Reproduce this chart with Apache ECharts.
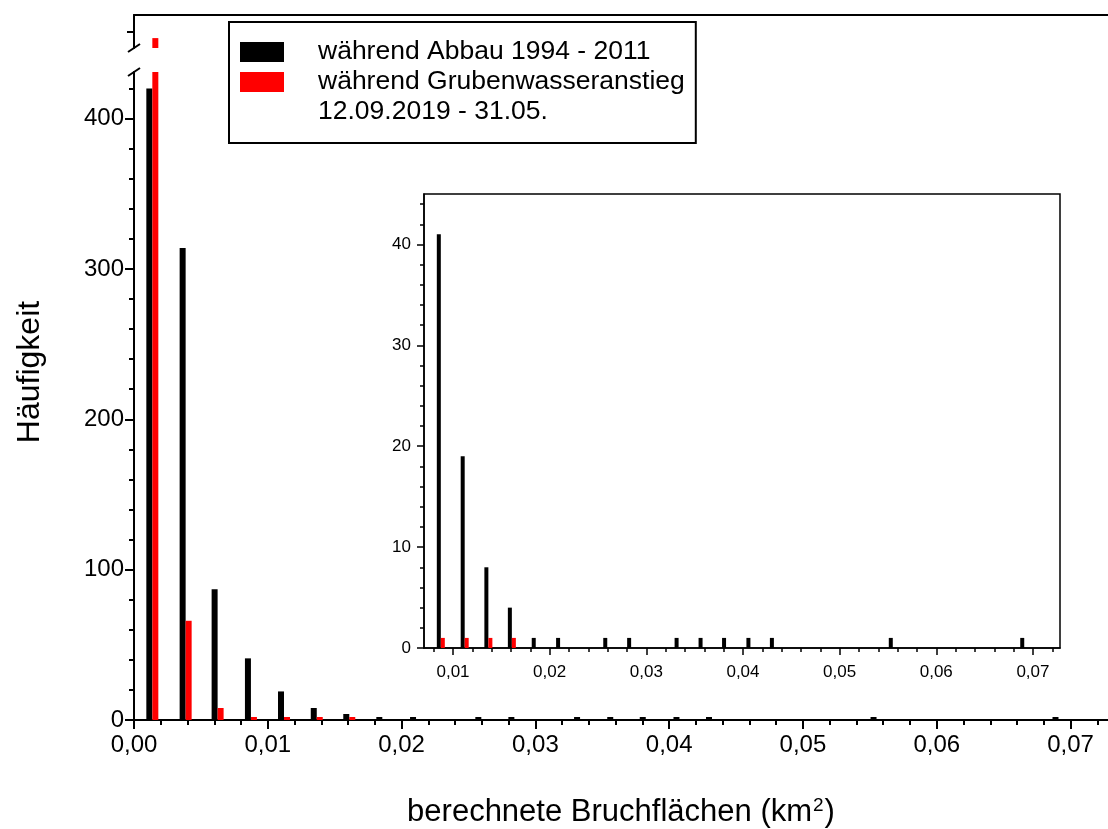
<!DOCTYPE html>
<html>
<head>
<meta charset="utf-8">
<script src="https://cdn.jsdelivr.net/npm/echarts@6/dist/echarts.min.js"></script>
<style>
  html, body { margin: 0; padding: 0; background: #fff; }
  #chart { width: 1108px; height: 829px; }
</style>
</head>
<body>
<div id="chart"></div>
<script>
// Histogram of computed fracture areas (km²): bin centres and event counts per period
const binCenters = [0.00137, 0.00386, 0.00625, 0.00874, 0.01121, 0.01366, 0.01609, 0.01856, 0.02108,
                    0.02596, 0.02843, 0.03334, 0.03582, 0.03825, 0.04077, 0.04320, 0.0555, 0.0691];
const abbau   = [420, 314, 87, 41, 19, 8, 4, 1, 1, 1, 1, 1, 1, 1, 1, 1, 1, 1];
const anstieg = [1160, 66, 8, 1, 1, 1, 1, 0, 0, 0, 0, 0, 0, 0, 0, 0, 0, 0];
const seriesNames = ['während Abbau 1994 - 2011', 'während Grubenwasseranstieg\n12.09.2019 - 31.05.'];

// tick values (labelled)
const mainXTicks  = [0, 0.01, 0.02, 0.03, 0.04, 0.05, 0.06, 0.07];
const mainYTicks  = [0, 100, 200, 300, 400];
const upperYTicks = [1200];
const insetXTicks = [0.01, 0.02, 0.03, 0.04, 0.05, 0.06, 0.07];
const insetYTicks = [0, 10, 20, 30, 40];

const FONT = '"Liberation Sans", Arial, sans-serif';
const BLACK = '#000000';
const RED = '#ff0000';

// axis ranges; the main y axis is broken into a lower and an upper segment
const mainX  = { min: 0, max: 0.0728 };
const lowerY = { min: 0, max: 431 };
const upperY = { min: 1100, max: 1300 };
const insetX = { min: 0.007, max: 0.0728 };
const insetY = { min: 0, max: 45 };

function minorTicks(range, step, majors) {
  const out = [];
  const start = Math.ceil(range.min / step - 1e-9);
  for (let k = start; k * step <= range.max + 1e-12; k++) {
    const v = +(k * step).toFixed(6);
    if (!majors.some(m => Math.abs(m - v) < step * 1e-3)) out.push(v);
  }
  return out;
}
const fmt = v => v.toFixed(2).replace('.', ',');

const pairs = (vals, keep) => binCenters.map((x, i) => keep(x, vals[i]) ? [x, vals[i]] : '-');

const axisLine = w => ({ show: true, onZero: false, lineStyle: { color: BLACK, width: w } });
const noLabel = { show: false };

function majorX(grid, range, ticks, opts) {
  return Object.assign({
    type: 'value', gridIndex: grid, min: range.min, max: range.max, position: 'bottom',
    splitLine: { show: false },
    axisLine: axisLine(opts.lw),
    axisTick: { show: true, customValues: ticks, length: opts.tick, lineStyle: { color: BLACK, width: opts.lw } },
    axisLabel: { customValues: ticks, formatter: fmt, fontFamily: FONT, fontSize: opts.fs, color: BLACK, margin: opts.margin }
  }, opts.extra || {});
}
function minorX(grid, range, ticks, len, lw) {
  return {
    type: 'value', gridIndex: grid, min: range.min, max: range.max, position: 'bottom',
    splitLine: { show: false }, axisLine: { show: false },
    axisTick: { show: true, customValues: ticks, length: len, lineStyle: { color: BLACK, width: lw } },
    axisLabel: noLabel
  };
}
function majorY(grid, range, ticks, opts) {
  return Object.assign({
    type: 'value', gridIndex: grid, min: range.min, max: range.max, position: 'left',
    splitLine: { show: false },
    axisLine: axisLine(opts.lw),
    axisTick: { show: true, customValues: ticks, length: opts.tick, lineStyle: { color: BLACK, width: opts.lw } },
    axisLabel: opts.fs ? { customValues: ticks, fontFamily: FONT, fontSize: opts.fs, color: BLACK, margin: opts.margin } : noLabel
  }, opts.extra || {});
}
function minorY(grid, range, ticks, len, lw) {
  return {
    type: 'value', gridIndex: grid, min: range.min, max: range.max, position: 'left',
    splitLine: { show: false }, axisLine: { show: false },
    axisTick: { show: true, customValues: ticks, length: len, lineStyle: { color: BLACK, width: lw } },
    axisLabel: noLabel
  };
}

const chart = echarts.init(document.getElementById('chart'), null, { renderer: 'canvas' });

const option = {
  animation: false,
  backgroundColor: '#fff',
  textStyle: { fontFamily: FONT },
  grid: [
    { left: 134, right: 0, top: 72, bottom: 109, outerBoundsMode: 'none' },            // lower segment
    { left: 134, right: 0, top: 15, height: 33, outerBoundsMode: 'none' },             // upper segment
    { left: 424, right: 48, top: 194, bottom: 181, outerBoundsMode: 'none',            // inset
      show: true, backgroundColor: '#fff', borderColor: BLACK, borderWidth: 1.5 }
  ],
  legend: {
    data: seriesNames,
    orient: 'vertical',
    left: 229, top: 22,
    padding: [15, 11, 16, 11],
    itemGap: -30,
    itemWidth: 44, itemHeight: 20,
    icon: 'rect',
    selectedMode: false,
    borderColor: BLACK, borderWidth: 2, backgroundColor: '#fff',
    formatter: name => (name.indexOf('\n') >= 0 ? '\n' + name : name),
    textStyle: { fontFamily: FONT, fontSize: 26.5, lineHeight: 30, color: BLACK, padding: [0, 0, 0, 29] }
  },
  xAxis: [
    majorX(0, mainX, mainXTicks, { lw: 2, tick: 9, fs: 24, margin: 13, extra: {
      name: 'berechnete Bruchflächen (km{sup|2})', nameLocation: 'middle', nameGap: 76,
      nameTextStyle: { fontFamily: FONT, fontSize: 31, color: BLACK,
        rich: { sup: { fontFamily: FONT, fontSize: 19, color: BLACK, padding: [0, 1, 13, 1] } } } } }),
    minorX(0, mainX, minorTicks(mainX, 0.002, mainXTicks), 5, 2),
    { type: 'value', gridIndex: 1, min: mainX.min, max: mainX.max, position: 'top',
      splitLine: { show: false }, axisLine: axisLine(2), axisTick: { show: false }, axisLabel: noLabel },
    majorX(2, insetX, insetXTicks, { lw: 1.5, tick: 7, fs: 17, margin: 16 }),
    minorX(2, insetX, minorTicks(insetX, 0.002, insetXTicks), 4, 1.5)
  ],
  yAxis: [
    majorY(0, lowerY, mainYTicks, { lw: 2, tick: 9, fs: 24, margin: 10, extra: {
      name: 'Häufigkeit', nameLocation: 'middle', nameGap: 88,
      nameTextStyle: { fontFamily: FONT, fontSize: 32, color: BLACK, padding: [0, 0, 0, 48] } } }),
    minorY(0, lowerY, minorTicks(lowerY, 20, mainYTicks), 5, 2),
    majorY(1, upperY, upperYTicks, { lw: 2, tick: 7 }),
    majorY(2, insetY, insetYTicks, { lw: 1.5, tick: 7, fs: 17, margin: 13 }),
    minorY(2, insetY, minorTicks(insetY, 2, insetYTicks), 4, 1.5)
  ],
  series: [
    { name: seriesNames[0], type: 'bar', xAxisIndex: 0, yAxisIndex: 0, barWidth: 6, barGap: '0%', barMinHeight: 3,
      itemStyle: { color: BLACK }, data: pairs(abbau, (x, v) => v > 0) },
    { name: seriesNames[1], type: 'bar', xAxisIndex: 0, yAxisIndex: 0, barWidth: 6, barGap: '0%', barMinHeight: 3,
      itemStyle: { color: RED }, data: pairs(anstieg, (x, v) => v > 0) },
    { name: seriesNames[0], type: 'bar', xAxisIndex: 2, yAxisIndex: 2, barWidth: 6, barGap: '0%',
      itemStyle: { color: BLACK }, data: pairs(abbau, (x, v) => v > upperY.min) },
    { name: seriesNames[1], type: 'bar', xAxisIndex: 2, yAxisIndex: 2, barWidth: 6, barGap: '0%',
      itemStyle: { color: RED }, data: pairs(anstieg, (x, v) => v > upperY.min) },
    { name: seriesNames[0], type: 'bar', xAxisIndex: 3, yAxisIndex: 3, barWidth: 4, barGap: '0%',
      itemStyle: { color: BLACK }, data: pairs(abbau, (x, v) => v > 0 && x >= insetX.min) },
    { name: seriesNames[1], type: 'bar', xAxisIndex: 3, yAxisIndex: 3, barWidth: 4, barGap: '0%',
      itemStyle: { color: RED }, data: pairs(anstieg, (x, v) => v > 0 && x >= insetX.min) }
  ]
};
chart.setOption(option);

// axis-break slashes where the lower and upper y segments end
const lowTop = chart.convertToPixel({ xAxisIndex: 0, yAxisIndex: 0 }, [mainX.min, lowerY.max]);
const upBottom = chart.convertToPixel({ xAxisIndex: 2, yAxisIndex: 2 }, [mainX.min, upperY.min]);
const slash = p => ({
  type: 'line', silent: true,
  shape: { x1: p[0] - 6, y1: p[1] + 4, x2: p[0] + 6, y2: p[1] - 4 },
  style: { stroke: BLACK, lineWidth: 2 }
});
chart.setOption({ graphic: [slash(lowTop), slash(upBottom)] });
</script>
</body>
</html>
